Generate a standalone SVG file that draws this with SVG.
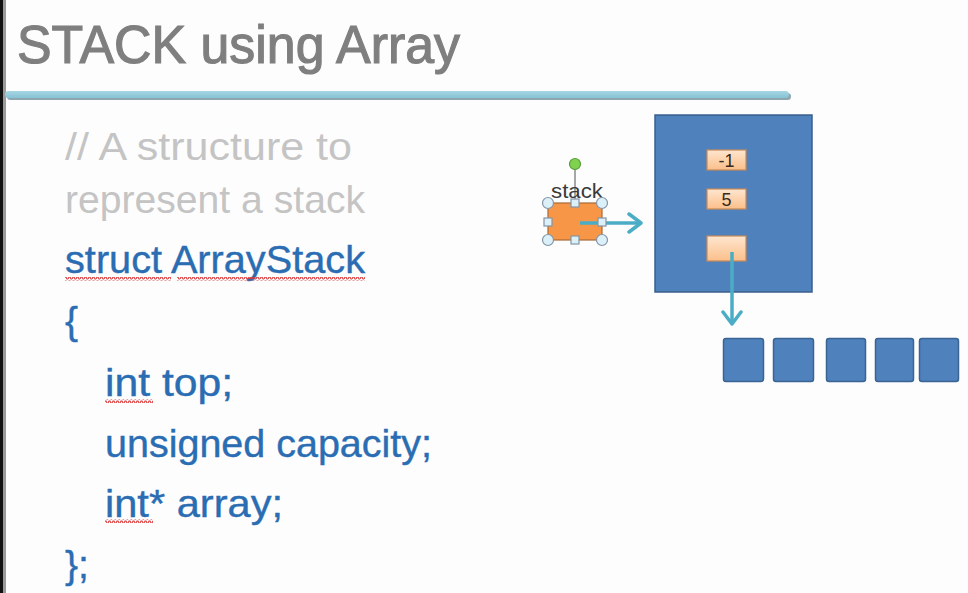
<svg xmlns="http://www.w3.org/2000/svg" width="968" height="593" viewBox="0 0 968 593">
  <defs>
    <linearGradient id="peach" x1="0" y1="0" x2="0" y2="1">
      <stop offset="0" stop-color="#fee6cf"/>
      <stop offset="1" stop-color="#fbbf8a"/>
    </linearGradient>
    <linearGradient id="bar" x1="0" y1="0" x2="0" y2="1">
      <stop offset="0" stop-color="#a6d6e3"/>
      <stop offset="1" stop-color="#86c2d4"/>
    </linearGradient>
    <marker id="chev" markerUnits="userSpaceOnUse" markerWidth="18" markerHeight="22" viewBox="0 0 18 22" refX="15" refY="11" orient="auto">
      <path d="M3,2 L15,11 L3,20" fill="none" stroke="#4bacc6" stroke-width="3.5" stroke-linejoin="round" stroke-linecap="round"/>
    </marker>
    <pattern id="wavy" x="0" y="0" width="4" height="4" patternUnits="userSpaceOnUse">
      <path d="M0,3 L1,1 L2,1 L3,3 L4,3" fill="none" stroke="#d83a3a" stroke-width="1.1"/>
    </pattern>
  </defs>
  <style>
    .title { font-family: "Liberation Sans", Arial, sans-serif; font-size: 53px; fill: #7f7f7f; stroke: #7f7f7f; stroke-width: 1.2px; }
    .cmt { font-family: "Liberation Sans", Arial, sans-serif; font-size: 39px; fill: #c4c4c4; }
    .code { font-family: "Liberation Sans", Arial, sans-serif; font-size: 39px; fill: #2a6db3; stroke: #2a6db3; stroke-width: 0.4px; }
    .field { fill: url(#peach); stroke: #c98b58; stroke-width: 1.2; }
    .fieldtxt { font-family: "Liberation Sans", Arial, sans-serif; font-size: 18px; fill: #3a2a20; text-anchor: middle; }
    .cell { fill: #4f81bd; stroke: #3a6494; stroke-width: 1.5; }
    .handle { fill: #dcf0fa; stroke: #8495a5; stroke-width: 1.2; }
    .conn { fill: none; stroke: #4bacc6; stroke-width: 3.5; }
    .wave { fill: url(#wavy); }
  </style>
  <rect x="0" y="0" width="968" height="593" fill="#fdfdfd"/>
  <rect x="0" y="0" width="3" height="593" fill="#111"/>
  <rect x="3" y="0" width="3" height="593" fill="#9a9a9a"/>

  <g id="title">
    <text class="title" x="17" y="63" textLength="443" lengthAdjust="spacingAndGlyphs">STACK using Array</text>
    <rect x="7" y="93" width="784" height="7" rx="3.5" fill="#8fa6b0"/>
    <rect x="5" y="91" width="784" height="7" rx="3.5" fill="url(#bar)"/>
  </g>

  <g id="code">
    <text class="cmt" x="65" y="160" textLength="287" lengthAdjust="spacingAndGlyphs">// A structure to</text>
    <text class="cmt" x="65" y="213" textLength="300" lengthAdjust="spacingAndGlyphs">represent a stack</text>
    <text class="code" x="65" y="273" textLength="300" lengthAdjust="spacingAndGlyphs">struct ArrayStack</text>
    <text class="code" x="65" y="334">{</text>
    <text class="code" x="105" y="396" textLength="128" lengthAdjust="spacingAndGlyphs">int top;</text>
    <text class="code" x="105" y="457" textLength="327" lengthAdjust="spacingAndGlyphs">unsigned capacity;</text>
    <text class="code" x="105" y="517" textLength="178" lengthAdjust="spacingAndGlyphs">int* array;</text>
    <text class="code" x="65" y="578">};</text>
    <rect class="wave" x="65" y="277" width="106" height="4"/>
    <rect class="wave" x="177" y="277" width="188" height="4"/>
    <rect class="wave" x="105" y="399" width="48" height="4"/>
    <rect class="wave" x="105" y="519" width="48" height="4"/>
  </g>

  <g id="stack-pointer">
    <line x1="575" y1="169" x2="575" y2="203" stroke="#8a8a8a" stroke-width="1.5"/>
    <circle cx="575" cy="164" r="5.5" fill="#7fd24c" stroke="#5c9a3c" stroke-width="1.2"/>
    <rect x="548" y="203" width="54" height="37" fill="#f79646" stroke="#a86a35" stroke-width="1.2"/>
    <text x="577" y="198" font-family="Liberation Sans, Arial, sans-serif" font-size="21" fill="#3a3a3a" text-anchor="middle" textLength="52" lengthAdjust="spacingAndGlyphs">stack</text>
    <circle class="handle" cx="548" cy="203" r="5.5"/>
    <circle class="handle" cx="602" cy="203" r="5.5"/>
    <circle class="handle" cx="548" cy="240" r="5.5"/>
    <circle class="handle" cx="602" cy="240" r="5.5"/>
    <rect class="handle" x="571" y="199" width="8" height="8"/>
    <rect class="handle" x="571" y="236" width="8" height="8"/>
    <rect class="handle" x="544" y="218" width="8" height="8"/>
  </g>

  <g id="array-stack">
    <rect x="655" y="115" width="157" height="177" fill="#4f81bd" stroke="#3a5f8c" stroke-width="1.5"/>
    <g id="field-top">
      <rect class="field" x="707" y="150" width="39" height="20"/>
      <text class="fieldtxt" x="726.5" y="167">-1</text>
    </g>
    <g id="field-capacity">
      <rect class="field" x="707" y="189" width="39" height="20"/>
      <text class="fieldtxt" x="726.5" y="206">5</text>
    </g>
    <g id="field-array">
      <rect class="field" x="707" y="236" width="39" height="25"/>
    </g>
  </g>

  <g id="array-cells">
    <rect class="cell" x="723.5" y="338.5" width="40" height="43" rx="2.5"/>
    <rect class="cell" x="773.5" y="338.5" width="40" height="43" rx="2.5"/>
    <rect class="cell" x="826.5" y="338.5" width="39" height="43" rx="2.5"/>
    <rect class="cell" x="875.5" y="338.5" width="38" height="43" rx="2.5"/>
    <rect class="cell" x="919.5" y="338.5" width="39" height="43" rx="2.5"/>
  </g>

  <g id="connectors">
    <line class="conn" x1="580" y1="223" x2="641" y2="223" marker-end="url(#chev)"/>
    <rect class="handle" x="598" y="218" width="8" height="8"/>
    <line class="conn" x1="732" y1="252" x2="732" y2="324" marker-end="url(#chev)"/>
  </g>
</svg>
